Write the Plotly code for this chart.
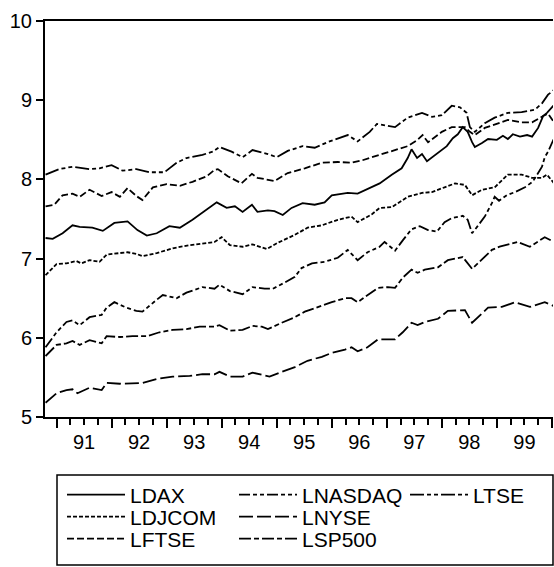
import plotly.graph_objects as go

# ---------------- data (decimal years, log index levels) ----------------
dax_t = [1990.80,1990.93,1991.11,1991.29,1991.42,1991.65,1991.84,1992.05,1992.29,1992.47,1992.64,1992.82,1993.05,1993.24,1993.47,1993.65,1993.84,1993.91,1994.09,1994.24,1994.38,1994.55,1994.65,1994.84,1994.96,1995.11,1995.27,1995.47,1995.69,1995.87,1996.00,1996.29,1996.47,1996.73,1996.87,1997.09,1997.27,1997.38,1997.45,1997.55,1997.64,1997.73,1997.91,1998.09,1998.20,1998.29,1998.38,1998.47,1998.55,1998.60,1998.73,1998.84,1999.00,1999.11,1999.20,1999.29,1999.42,1999.55,1999.64,1999.75,1999.84,1999.91,2000.04]
dax_v = [7.26,7.25,7.32,7.42,7.40,7.39,7.35,7.45,7.47,7.36,7.29,7.32,7.41,7.39,7.49,7.58,7.68,7.71,7.64,7.66,7.59,7.68,7.59,7.61,7.60,7.55,7.64,7.70,7.68,7.71,7.80,7.83,7.82,7.90,7.95,8.06,8.14,8.27,8.38,8.27,8.32,8.23,8.33,8.42,8.52,8.57,8.66,8.60,8.47,8.41,8.46,8.51,8.50,8.55,8.51,8.57,8.54,8.56,8.54,8.65,8.80,8.84,8.94]

nasdaq_t = [1990.80,1991.00,1991.18,1991.29,1991.42,1991.60,1991.82,1991.91,1992.05,1992.27,1992.45,1992.56,1992.82,1992.93,1993.18,1993.36,1993.65,1993.87,1993.96,1994.15,1994.38,1994.56,1994.78,1994.93,1995.15,1995.33,1995.45,1995.64,1995.87,1996.11,1996.29,1996.47,1996.65,1996.87,1996.96,1997.15,1997.29,1997.45,1997.60,1997.75,1997.91,1998.05,1998.18,1998.38,1998.47,1998.55,1998.64,1998.78,1998.91,1998.96,1999.04,1999.18,1999.33,1999.51,1999.65,1999.82,1999.87,1999.93,2000.04]
nasdaq_v = [5.88,6.07,6.20,6.22,6.16,6.26,6.29,6.38,6.45,6.38,6.34,6.33,6.48,6.54,6.50,6.57,6.64,6.62,6.67,6.59,6.55,6.64,6.62,6.62,6.70,6.77,6.88,6.94,6.96,7.01,7.11,6.98,7.08,7.15,7.21,7.10,7.23,7.37,7.41,7.36,7.34,7.46,7.51,7.54,7.49,7.32,7.40,7.53,7.70,7.78,7.73,7.80,7.84,7.90,7.97,8.16,8.28,8.35,8.52]

tse_t = [1990.80,1991.05,1991.29,1991.60,1991.78,1992.00,1992.20,1992.45,1992.69,1992.96,1993.18,1993.36,1993.65,1993.84,1993.96,1994.18,1994.38,1994.56,1994.84,1995.00,1995.20,1995.47,1995.69,1995.96,1996.29,1996.47,1996.69,1996.82,1997.15,1997.38,1997.64,1997.82,1998.00,1998.18,1998.33,1998.45,1998.51,1998.60,1998.78,1998.96,1999.20,1999.45,1999.69,1999.82,1999.93,2000.04]
tse_v = [8.06,8.13,8.16,8.13,8.14,8.18,8.11,8.13,8.09,8.09,8.21,8.27,8.31,8.35,8.41,8.35,8.28,8.37,8.32,8.28,8.36,8.42,8.40,8.48,8.56,8.48,8.60,8.70,8.66,8.78,8.84,8.79,8.81,8.93,8.91,8.84,8.66,8.60,8.71,8.78,8.84,8.85,8.88,8.96,9.07,9.13]

djcom_t = [1990.80,1991.00,1991.18,1991.36,1991.45,1991.60,1991.78,1991.91,1992.15,1992.29,1992.45,1992.56,1992.82,1993.11,1993.42,1993.73,1993.87,1994.00,1994.15,1994.38,1994.56,1994.82,1995.02,1995.33,1995.56,1995.82,1996.11,1996.36,1996.47,1996.73,1996.87,1997.09,1997.38,1997.64,1997.82,1998.05,1998.24,1998.42,1998.55,1998.73,1998.96,1999.20,1999.45,1999.64,1999.82,1999.91,2000.04]
djcom_v = [6.79,6.93,6.94,6.97,6.94,6.98,6.96,7.05,7.07,7.08,7.06,7.03,7.07,7.13,7.17,7.20,7.21,7.27,7.17,7.15,7.18,7.12,7.20,7.30,7.39,7.42,7.49,7.53,7.46,7.56,7.64,7.65,7.78,7.83,7.84,7.90,7.95,7.93,7.80,7.87,7.90,8.06,8.06,8.02,8.02,8.06,7.95]

nyse_t = [1990.80,1991.00,1991.18,1991.29,1991.38,1991.60,1991.82,1991.91,1992.15,1992.38,1992.56,1992.82,1993.11,1993.42,1993.65,1993.87,1993.96,1994.15,1994.38,1994.56,1994.78,1994.87,1995.09,1995.33,1995.56,1995.82,1996.00,1996.24,1996.36,1996.47,1996.65,1996.84,1997.15,1997.29,1997.45,1997.56,1997.69,1997.93,1998.11,1998.42,1998.55,1998.84,1999.09,1999.33,1999.60,1999.87,2000.04]
nyse_v = [5.18,5.30,5.34,5.35,5.30,5.37,5.34,5.43,5.42,5.43,5.43,5.48,5.51,5.52,5.54,5.54,5.57,5.51,5.51,5.56,5.53,5.51,5.57,5.63,5.71,5.76,5.81,5.85,5.88,5.83,5.88,5.98,5.98,6.07,6.19,6.16,6.20,6.24,6.34,6.35,6.19,6.38,6.39,6.45,6.39,6.45,6.40]

ftse_t = [1990.80,1990.96,1991.11,1991.29,1991.42,1991.60,1991.82,1992.00,1992.15,1992.29,1992.45,1992.56,1992.75,1993.00,1993.24,1993.47,1993.73,1993.87,1993.93,1994.11,1994.36,1994.55,1994.65,1994.96,1995.20,1995.51,1995.82,1996.11,1996.36,1996.55,1996.73,1996.87,1997.09,1997.38,1997.56,1997.65,1997.75,1998.00,1998.18,1998.42,1998.51,1998.60,1998.78,1999.02,1999.20,1999.45,1999.64,1999.84,1999.93,2000.04]
ftse_v = [7.66,7.68,7.80,7.82,7.78,7.87,7.79,7.84,7.78,7.89,7.79,7.74,7.90,7.94,7.92,7.97,8.04,8.12,8.13,8.04,7.95,8.07,8.02,7.98,8.08,8.14,8.21,8.22,8.21,8.24,8.28,8.31,8.35,8.42,8.50,8.56,8.47,8.60,8.66,8.66,8.60,8.56,8.65,8.71,8.75,8.72,8.72,8.80,8.83,8.72]

sp500_t = [1990.80,1991.00,1991.18,1991.29,1991.42,1991.60,1991.82,1991.91,1992.15,1992.38,1992.64,1992.87,1993.11,1993.36,1993.60,1993.87,1993.96,1994.15,1994.38,1994.56,1994.73,1994.84,1995.09,1995.33,1995.51,1995.75,1996.00,1996.24,1996.36,1996.47,1996.65,1996.84,1997.02,1997.15,1997.29,1997.45,1997.56,1997.69,1997.93,1998.11,1998.38,1998.55,1998.91,1999.05,1999.38,1999.60,1999.87,2000.04]
sp500_v = [5.77,5.91,5.93,5.96,5.91,5.97,5.93,6.02,6.01,6.02,6.02,6.07,6.10,6.11,6.14,6.14,6.16,6.09,6.10,6.15,6.14,6.11,6.19,6.26,6.33,6.39,6.45,6.50,6.50,6.45,6.54,6.63,6.64,6.63,6.76,6.86,6.82,6.86,6.89,6.98,7.02,6.87,7.11,7.15,7.21,7.15,7.27,7.21]

year_labels = ["91", "92", "93", "94", "95", "96", "97", "98", "99"]
first_year = 1991
y_ticks = [5, 6, 7, 8, 9, 10]

# ---------------- styling ----------------
FONT = "Liberation Sans, Arial, Helvetica, sans-serif"
W, H = 554, 567
L, R, T, B = 45, 553, 21, 417
BOX = (57, 475, 553, 565)               # legend frame (px)
COL_X = [62, 234, 405]                  # legend entry left edges (px)
ROW_Y = [495, 517, 539]                 # legend row centres (px)

# (name, t, v, dash, (col, row))
series = [
    ("LDAX", dax_t, dax_v, "solid", (0, 0)),
    ("LNASDAQ", nasdaq_t, nasdaq_v, "11px,3px,4px,3px,4px,3px", (1, 0)),
    ("LTSE", tse_t, tse_v, "14px,3px,4px,3px,4px,3px", (2, 0)),
    ("LDJCOM", djcom_t, djcom_v, "4px,2px", (0, 1)),
    ("LNYSE", nyse_t, nyse_v, "14px,4px", (1, 1)),
    ("LFTSE", ftse_t, ftse_v, "7px,3px", (0, 2)),
    ("LSP500", sp500_t, sp500_v, "12px,3px,5px,3px", (1, 2)),
]

fig = go.Figure()
legends = {}
for i, (name, t, v, dash, (c, r)) in enumerate(series):
    key = "legend" if i == 0 else f"legend{i + 1}"
    fig.add_trace(go.Scatter(x=t, y=v, mode="lines", name=name, legend=key,
                             line=dict(color="black", width=1.8, dash=dash)))
    legends[key] = dict(xref="container", yref="container",
                        x=COL_X[c] / W, xanchor="left",
                        y=1 - ROW_Y[r] / H, yanchor="middle",
                        itemwidth=58, borderwidth=0, bgcolor="rgba(0,0,0,0)",
                        font=dict(size=21, family=FONT, color="black"))

years = list(range(first_year, first_year + len(year_labels)))
q_vals, q_text = [], []
for yr, lab in zip(years, year_labels):
    for q in (0.25, 0.5, 0.75):
        q_vals.append(yr + q)
        q_text.append(lab if q == 0.5 else "")
boundaries = years + [years[-1] + 1]

# invisible carrier so the overlaid axis with the long year ticks is drawn
fig.add_trace(go.Scatter(x=boundaries, y=[y_ticks[0]] * len(boundaries), xaxis="x2",
                         mode="markers", marker=dict(opacity=0), showlegend=False,
                         hoverinfo="skip"))

x_range = [1990.79, 2000.02]

def py_to_paper(py):
    return (B - py) / (B - T)

fig.update_layout(
    width=W, height=H,
    margin=dict(l=0, r=0, t=T, b=H - B, autoexpand=False),
    paper_bgcolor="white", plot_bgcolor="white",
    font=dict(family=FONT, size=20, color="black"),
    showlegend=True,
    xaxis=dict(range=x_range, domain=[L / W, R / W], showgrid=False, zeroline=False,
               showline=True, linecolor="black", linewidth=2, mirror=True,
               tickmode="array", tickvals=q_vals, ticktext=q_text,
               ticks="outside", ticklen=6, tickwidth=1.5, tickcolor="black",
               tickfont=dict(size=20, family=FONT, color="black")),
    xaxis2=dict(range=x_range, domain=[L / W, R / W], overlaying="x", anchor="y",
                side="bottom", showgrid=False, zeroline=False, showline=False,
                tickmode="array", tickvals=boundaries, ticktext=[""] * len(boundaries),
                ticks="outside", ticklen=10, tickwidth=1.5, tickcolor="black"),
    yaxis=dict(range=[5, 10], showgrid=False, zeroline=False,
               showline=True, linecolor="black", linewidth=2,
               tickmode="array", tickvals=y_ticks,
               ticks="outside", ticklen=7, tickwidth=1.5, tickcolor="black",
               tickfont=dict(size=20, family=FONT, color="black")),
    shapes=[dict(type="rect", xref="paper", yref="paper",
                 x0=BOX[0] / W, x1=BOX[2] / W,
                 y0=py_to_paper(BOX[1]), y1=py_to_paper(BOX[3]),
                 line=dict(color="black", width=1.5), fillcolor="rgba(0,0,0,0)",
                 layer="below")],
    **legends,
)

fig.write_html("out.html")
